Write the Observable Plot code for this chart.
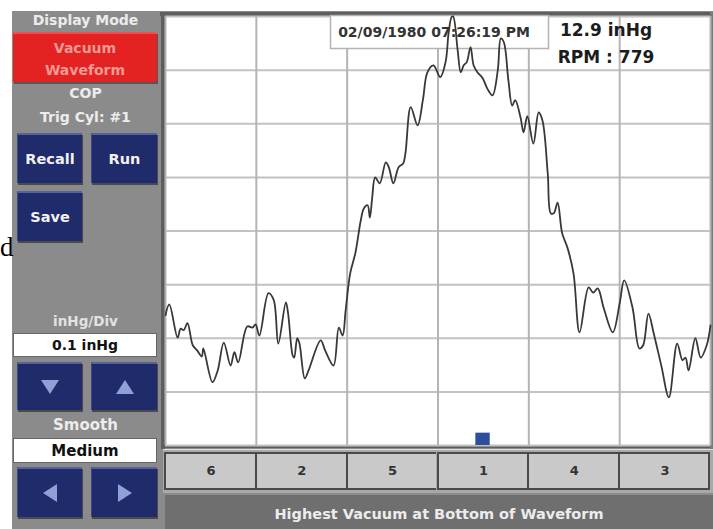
<!DOCTYPE html>
<html><head><meta charset="utf-8">
<script src="https://cdn.jsdelivr.net/npm/d3@7"></script>
<script src="https://cdn.jsdelivr.net/npm/@observablehq/plot@0.6"></script>
<style>
body{margin:0;background:#fff;width:713px;height:529px;overflow:hidden;position:relative;font-family:"DejaVu Sans",sans-serif;}
div{box-sizing:border-box;}
#app{position:absolute;left:12px;top:11px;width:701px;height:518px;background:#8b8b8b;z-index:0;}
.lbl{position:absolute;left:12px;width:147px;text-align:center;color:#ececec;font-weight:bold;font-size:14px;line-height:18px;z-index:3;}
.btn{position:absolute;background:#1f2b6b;border-top:2px solid #56639a;border-left:1px solid #3b4882;box-shadow:1px 2px 0 #4a4a4a;color:#f2f2f2;font-weight:bold;font-size:14.5px;display:flex;align-items:center;justify-content:center;z-index:3;}
.box{position:absolute;left:13px;width:144px;background:#fff;border:1px solid #666;color:#111;font-weight:bold;font-size:14px;display:flex;align-items:center;justify-content:center;z-index:3;}
#red{position:absolute;left:13px;top:32px;width:144px;height:50px;background:#e42222;border-top:2px solid #f05050;box-shadow:1px 2px 0 #555;color:#f29a92;font-weight:bold;font-size:14px;text-align:center;line-height:22px;padding-top:3px;z-index:3;}
.cyl{position:absolute;top:452px;height:38px;background:#c9c9c9;border:2px solid #4a4a4a;border-right:none;z-index:1;}
#bar{position:absolute;left:163px;top:449px;width:550px;height:44px;background:#a9a9a9;border-top:1px solid #e0e0e0;z-index:1;}
#band{position:absolute;left:165px;top:495px;width:548px;height:34px;background:#6f6f6f;color:#ececec;font-weight:bold;font-size:14.5px;text-align:center;line-height:38px;z-index:1;}
#topb{position:absolute;left:160px;top:12px;width:553px;height:4px;background:#5e5e5e;z-index:1;}
#leftb{position:absolute;left:161px;top:12px;width:4px;height:437px;background:#5e5e5e;z-index:1;}
#botb{position:absolute;left:161px;top:444px;width:552px;height:4px;background:#5e5e5e;z-index:1;}
#rightb{position:absolute;left:710px;top:12px;width:3px;height:437px;background:#7a7a7a;z-index:1;}
#plot svg{position:absolute;left:0;top:0;z-index:2;}
#stray{position:absolute;left:0;top:232px;font-family:"Liberation Serif",serif;font-size:27px;color:#000;z-index:3;}
</style></head><body>
<div id="app"></div>
<div id="topb"></div><div id="leftb"></div><div id="botb"></div><div id="rightb"></div>
<div id="bar"></div>
<div id="band"></div>
<div id="cyls"></div>
<div id="stray">d</div>
<div class="lbl" style="top:11px">Display Mode</div>
<div id="red">Vacuum<br>Waveform</div>
<div class="lbl" style="top:84px">COP</div>
<div class="lbl" style="top:108px">Trig Cyl: #1</div>
<div class="btn" style="left:17px;top:133px;width:65px;height:50px">Recall</div>
<div class="btn" style="left:91px;top:133px;width:66px;height:50px">Run</div>
<div class="btn" style="left:17px;top:191px;width:65px;height:50px">Save</div>
<div class="lbl" style="top:312px;font-size:13.5px;color:#e2e2e2">inHg/Div</div>
<div class="box" style="top:333px;height:24px">0.1 inHg</div>
<div class="btn" style="left:17px;top:362px;width:65px;height:48px"><svg width="20" height="16"><polygon points="1,1 19,1 10,15" fill="#8ea0d6"/></svg></div>
<div class="btn" style="left:91px;top:362px;width:66px;height:48px"><svg width="20" height="16"><polygon points="1,15 19,15 10,1" fill="#8ea0d6"/></svg></div>
<div class="lbl" style="top:416px;font-size:15px">Smooth</div>
<div class="box" style="top:438px;height:25px;font-size:15px">Medium</div>
<div class="btn" style="left:17px;top:467px;width:65px;height:50px"><svg width="16" height="20"><polygon points="15,1 15,19 1,10" fill="#8ea0d6"/></svg></div>
<div class="btn" style="left:91px;top:467px;width:66px;height:50px"><svg width="16" height="20"><polygon points="1,1 1,19 15,10" fill="#8ea0d6"/></svg></div>
<div id="plot"></div>
<script>
// firing order labels under each 120° crank sector
const firingOrder = ["6", "2", "5", "1", "4", "3"];
const sectorCenters = [60, 180, 300, 420, 540, 660];
const sectorEdges = [0, 120, 240, 360, 480, 600, 720];
const divisions = [0, 1, 2, 3, 4, 5, 6, 7, 8];
// waveform: crank angle (deg) and vacuum trace height (divisions, 0.1 inHg/div)
const crankDeg = [0,5,16,20,24,29,36,42,48,50,62,69,77,86,91,96,108,115,119,124,136,143,149,159,162,168,170,174,177,184,189,205,211,222,229,234,238,244,251,258,262,267,270,273,277,283,291,295,301,308,314,317,324,333,340,346,354,363,370,374,378,380,386,390,394,398,403,407,412,419,425,432,439,443,447,453,458,462,469,473,478,486,493,498,505,509,513,518,524,531,539,547,559,565,571,579,591,600,606,617,626,631,638,645,655,665,676,683,687,691,700,707,715,720];
const vacDiv = [2.43,2.63,2.01,2.18,2.15,2.28,1.87,1.77,1.66,1.81,1.18,1.40,1.92,1.49,1.74,1.55,2.22,2.20,2.26,2.05,2.84,2.71,1.90,2.67,2.46,1.68,1.64,2.00,1.90,1.25,1.40,1.96,1.77,1.49,2.20,2.05,2.52,3.21,3.60,4.20,4.42,4.48,4.25,4.61,5.00,4.89,5.28,5.19,4.89,5.19,5.26,5.45,6.31,5.97,6.44,6.96,7.09,6.87,7.15,7.69,7.99,8.00,7.37,6.96,7.09,7.15,7.43,7.09,6.96,6.85,6.66,6.53,7.00,7.59,7.52,6.81,6.34,6.44,6.12,5.84,6.14,5.63,6.21,6.06,5.07,4.33,4.33,4.53,3.96,3.69,3.21,2.11,2.95,2.85,2.93,2.56,2.11,2.65,3.08,2.57,1.81,1.87,2.46,2.09,1.49,0.90,1.90,1.59,1.64,1.40,2.00,1.64,1.87,2.24];
// trigger marker (crank degrees)
const triggerSpan = [{x1: 410, x2: 429, y1: 0, y2: 0.23}];
const dateText = "02/09/1980 07:26:19 PM";
const readingText = "12.9 inHg";
const rpmText = "RPM : 779";

const wave = crankDeg.map((d, i) => ({deg: d, v: vacDiv[i]}));

function overlay() {
  const g = d3.create("svg:g").attr("font-family", "DejaVu Sans, sans-serif").attr("font-weight", "bold");
  g.append("rect").attr("x", 330.5).attr("y", 15.5).attr("width", 218).attr("height", 33)
    .attr("fill", "#fff").attr("stroke", "#b3b3b3").attr("stroke-width", 1.5);
  g.append("text").attr("x", 434).attr("y", 37).attr("text-anchor", "middle")
    .attr("font-size", 14).attr("fill", "#333").text(dateText);
  g.append("text").attr("x", 606).attr("y", 36).attr("font-size", 17).attr("fill", "#1c1c1c").text(readingText);
  g.append("text").attr("x", 606).attr("y", 63).attr("font-size", 17).attr("fill", "#1c1c1c").text(rpmText);
  return g.node();
}

const chart = Plot.plot({
  width: 713, height: 529,
  marginLeft: 165, marginRight: 3, marginTop: 16, marginBottom: 84,
  style: {background: "transparent", fontFamily: "DejaVu Sans, sans-serif", overflow: "visible"},
  x: {domain: [0, 720], label: null},
  y: {domain: [0, 8], axis: null},
  marks: [
    Plot.frame({fill: "#fff", stroke: null}),
    Plot.gridY(divisions, {stroke: "#c2c2c2", strokeOpacity: 1, strokeWidth: 2}),
    Plot.gridX(sectorEdges, {stroke: "#b4b4b4", strokeOpacity: 1, strokeWidth: 2}),
    overlay,
    Plot.rect(triggerSpan, {x1: "x1", x2: "x2", y1: "y1", y2: "y2", fill: "#2e4d9b"}),
    Plot.line(wave, {x: "deg", y: "v", stroke: "#383838", strokeWidth: 1.8, curve: "catmull-rom"}),
    Plot.axisX(sectorCenters, {tickSize: 0, tickPadding: 20, fontSize: 13, fontWeight: "bold", fill: "#333",
      tickFormat: d => firingOrder[sectorCenters.indexOf(d)]})
  ]
});
document.getElementById("plot").appendChild(chart);

// cylinder cells aligned to the plot's x scale
const xs = chart.scale("x");
const cyls = document.getElementById("cyls");
for (let i = 0; i < 6; i++) {
  const a = xs.apply(sectorEdges[i]), b = xs.apply(sectorEdges[i + 1]);
  const c = document.createElement("div");
  c.className = "cyl";
  c.style.left = (a - 1) + "px";
  c.style.width = (b - a + (i === 5 ? 1 : 0)) + "px";
  if (i === 5) c.style.borderRight = "2px solid #4a4a4a";
  cyls.appendChild(c);
}
document.getElementById("band").textContent = "Highest Vacuum at Bottom of Waveform";
</script>
</body></html>
